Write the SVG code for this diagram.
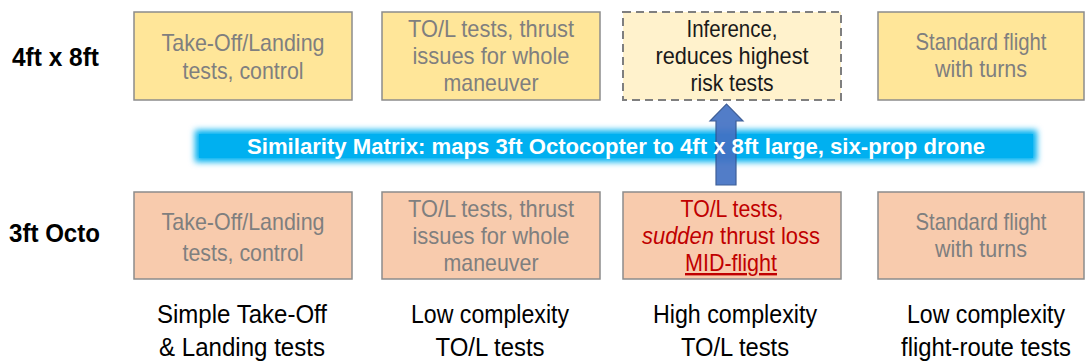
<svg xmlns="http://www.w3.org/2000/svg" width="1086" height="363" viewBox="0 0 1086 363">
  <style>
    .box { stroke: #8c8c8c; stroke-width: 1.5; }
    .top { fill: #ffe699; }
    .bot { fill: #f8cbad; }
    .inf { fill: #fff2cc; stroke: #7f7f7f; stroke-width: 2; stroke-dasharray: 8 5; }
    .t { font-family: "Liberation Sans", Arial, sans-serif; font-size: 24px; text-anchor: middle; }
    .g { fill: #7f7f7f; }
    .k { fill: #1a1a1a; }
    .r { fill: #c00000; }
    .lbl { font-family: "Liberation Sans", Arial, sans-serif; font-size: 25px; fill: #000; text-anchor: middle; }
    .row { font-family: "Liberation Sans", Arial, sans-serif; font-size: 25px; font-weight: bold; fill: #000; }
    .band { font-family: "Liberation Sans", Arial, sans-serif; font-size: 22px; font-weight: bold; fill: #fff; }
  </style>
  <defs>
    <filter id="glow" x="-5%" y="-50%" width="110%" height="200%">
      <feGaussianBlur stdDeviation="3"/>
    </filter>
  </defs>
  <rect width="1086" height="363" fill="#fff"/>

  <!-- row labels -->
  <text class="row" x="12" y="66" textLength="87" lengthAdjust="spacingAndGlyphs">4ft x 8ft</text>
  <text class="row" x="9" y="242" textLength="91" lengthAdjust="spacingAndGlyphs">3ft Octo</text>

  <!-- 4ft x 8ft row -->
  <g id="top-takeoff">
    <rect class="box top" x="134" y="12" width="218" height="88"/>
    <text class="t g" x="243" y="51" textLength="163" lengthAdjust="spacingAndGlyphs">Take-Off/Landing</text>
    <text class="t g" x="243" y="79" textLength="121" lengthAdjust="spacingAndGlyphs">tests, control</text>
  </g>
  <g id="top-thrust">
    <rect class="box top" x="382" y="12" width="218" height="88"/>
    <text class="t g" x="491" y="37" textLength="166" lengthAdjust="spacingAndGlyphs">TO/L tests, thrust</text>
    <text class="t g" x="491" y="64" textLength="157" lengthAdjust="spacingAndGlyphs">issues for whole</text>
    <text class="t g" x="491" y="91" textLength="95" lengthAdjust="spacingAndGlyphs">maneuver</text>
  </g>
  <g id="top-inference">
    <rect class="inf" x="623" y="12" width="218" height="88"/>
    <text class="t k" x="732" y="37" textLength="91" lengthAdjust="spacingAndGlyphs">Inference,</text>
    <text class="t k" x="732" y="64" textLength="153" lengthAdjust="spacingAndGlyphs">reduces highest</text>
    <text class="t k" x="732" y="91" textLength="83" lengthAdjust="spacingAndGlyphs">risk tests</text>
  </g>
  <g id="top-standard">
    <rect class="box top" x="878" y="12" width="206" height="88"/>
    <text class="t g" x="981" y="50" textLength="131" lengthAdjust="spacingAndGlyphs">Standard flight</text>
    <text class="t g" x="981" y="77" textLength="92" lengthAdjust="spacingAndGlyphs">with turns</text>
  </g>

  <!-- 3ft Octo row -->
  <g id="bot-takeoff">
    <rect class="box bot" x="134" y="192" width="218" height="87"/>
    <text class="t g" x="243" y="230" textLength="163" lengthAdjust="spacingAndGlyphs">Take-Off/Landing</text>
    <text class="t g" x="243" y="261" textLength="121" lengthAdjust="spacingAndGlyphs">tests, control</text>
  </g>
  <g id="bot-thrust">
    <rect class="box bot" x="382" y="192" width="218" height="87"/>
    <text class="t g" x="491" y="217" textLength="166" lengthAdjust="spacingAndGlyphs">TO/L tests, thrust</text>
    <text class="t g" x="491" y="244" textLength="157" lengthAdjust="spacingAndGlyphs">issues for whole</text>
    <text class="t g" x="491" y="271" textLength="95" lengthAdjust="spacingAndGlyphs">maneuver</text>
  </g>
  <g id="bot-sudden">
    <rect class="box bot" x="623" y="192" width="218" height="87"/>
    <text class="t r" x="732" y="217" textLength="103" lengthAdjust="spacingAndGlyphs">TO/L tests,</text>
    <text class="t r" x="731" y="244" textLength="178" lengthAdjust="spacingAndGlyphs"><tspan font-style="italic">sudden</tspan> thrust loss</text>
    <text class="t r" x="731" y="271" textLength="92" lengthAdjust="spacingAndGlyphs" text-decoration="underline">MID-flight</text>
  </g>
  <g id="bot-standard">
    <rect class="box bot" x="878" y="192" width="206" height="87"/>
    <text class="t g" x="981" y="230" textLength="131" lengthAdjust="spacingAndGlyphs">Standard flight</text>
    <text class="t g" x="981" y="257" textLength="92" lengthAdjust="spacingAndGlyphs">with turns</text>
  </g>

  <!-- column captions -->
  <g id="captions">
    <text class="lbl" x="242" y="323" textLength="170" lengthAdjust="spacingAndGlyphs">Simple Take-Off</text>
    <text class="lbl" x="242" y="356" textLength="166" lengthAdjust="spacingAndGlyphs">&amp; Landing tests</text>
    <text class="lbl" x="490" y="323" textLength="158" lengthAdjust="spacingAndGlyphs">Low complexity</text>
    <text class="lbl" x="490" y="356" textLength="109" lengthAdjust="spacingAndGlyphs">TO/L tests</text>
    <text class="lbl" x="735" y="323" textLength="164" lengthAdjust="spacingAndGlyphs">High complexity</text>
    <text class="lbl" x="735" y="356" textLength="108" lengthAdjust="spacingAndGlyphs">TO/L tests</text>
    <text class="lbl" x="986" y="323" textLength="158" lengthAdjust="spacingAndGlyphs">Low complexity</text>
    <text class="lbl" x="986" y="356" textLength="170" lengthAdjust="spacingAndGlyphs">flight-route tests</text>
  </g>

  <!-- similarity band and mapping arrow -->
  <g id="connectors">
    <rect x="195" y="130" width="842" height="32" fill="#00b0f0" filter="url(#glow)"/>
    <rect x="199" y="134" width="834" height="24" fill="#00b0f0"/>
    <path d="M716,185 V121 H710 L726.5,104 L743,121 H736 V185 Z" fill="#4472c4" stroke="#2f528f" stroke-width="1.2" opacity="0.92"/>
    <text class="band" x="247" y="154" textLength="738" lengthAdjust="spacingAndGlyphs">Similarity Matrix: maps 3ft Octocopter to 4ft x 8ft large, six-prop drone</text>
  </g>
</svg>
